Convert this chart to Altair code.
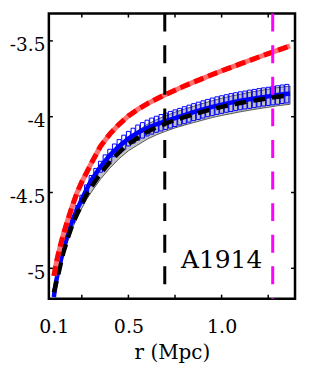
import altair as alt
import pandas as pd

# ---------------- data ----------------
r_grid = [0.1, 0.11, 0.12, 0.135, 0.15, 0.175, 0.2, 0.225, 0.25, 0.275, 0.3, 0.35, 0.4, 0.45,
          0.5, 0.55, 0.6, 0.65, 0.7, 0.75, 0.8, 0.85, 0.9, 0.95, 1.0, 1.05, 1.1, 1.15, 1.2,
          1.25, 1.3, 1.367]
red_curve = [-5.05, -4.985, -4.925, -4.85, -4.78, -4.68, -4.585, -4.5, -4.43, -4.37, -4.31,
             -4.195, -4.115, -4.05, -3.995, -3.952, -3.915, -3.883, -3.853, -3.825, -3.798,
             -3.772, -3.747, -3.722, -3.698, -3.675, -3.652, -3.629, -3.606, -3.584, -3.562,
             -3.533]
blue_curve = [-5.19, -5.10, -5.04, -4.96, -4.88, -4.77, -4.68, -4.61, -4.545, -4.48, -4.42,
              -4.33, -4.255, -4.195, -4.145, -4.105, -4.075, -4.05, -4.03, -4.01, -3.99, -3.97,
              -3.952, -3.935, -3.92, -3.907, -3.895, -3.885, -3.875, -3.866, -3.857, -3.847]
black_curve = [-5.16, -5.11, -5.06, -4.98, -4.90, -4.80, -4.71, -4.64, -4.575, -4.515, -4.465,
               -4.375, -4.30, -4.235, -4.18, -4.14, -4.10, -4.07, -4.045, -4.022, -4.003,
               -3.985, -3.967, -3.95, -3.935, -3.922, -3.91, -3.898, -3.888, -3.878, -3.868,
               -3.858]
band_lo = [-5.17, -5.125, -5.075, -4.998, -4.92, -4.822, -4.735, -4.667, -4.605, -4.547, -4.5,
           -4.412, -4.34, -4.277, -4.225, -4.187, -4.149, -4.12, -4.096, -4.074, -4.056,
           -4.039, -4.022, -4.006, -3.992, -3.98, -3.968, -3.957, -3.947, -3.938, -3.928,
           -3.918]
band_hi = [-5.15, -5.095, -5.045, -4.962, -4.88, -4.778, -4.685, -4.613, -4.545, -4.483, -4.43,
           -4.338, -4.26, -4.193, -4.135, -4.093, -4.051, -4.02, -3.994, -3.97, -3.95, -3.931,
           -3.912, -3.894, -3.878, -3.864, -3.852, -3.839, -3.829, -3.818, -3.808, -3.798]

box_r = [0.125, 0.15, 0.175, 0.2, 0.225, 0.25, 0.275, 0.3, 0.325, 0.35, 0.375, 0.4, 0.425,
         0.45, 0.475, 0.5, 0.525, 0.55, 0.575, 0.6, 0.625, 0.65, 0.675, 0.7, 0.725, 0.75,
         0.775, 0.8, 0.825, 0.85, 0.875, 0.9, 0.925, 0.95, 0.975, 1.0, 1.025, 1.05, 1.075,
         1.1, 1.125, 1.15, 1.175, 1.2, 1.225, 1.25, 1.275, 1.3, 1.325, 1.35]
box_val = [-5.02, -4.88, -4.77, -4.68, -4.61, -4.545, -4.48, -4.42, -4.375, -4.33, -4.29,
           -4.255, -4.222, -4.195, -4.168, -4.145, -4.125, -4.105, -4.09, -4.075, -4.062,
           -4.05, -4.04, -4.03, -4.02, -4.01, -4.0, -3.99, -3.98, -3.97, -3.961, -3.952,
           -3.943, -3.935, -3.927, -3.92, -3.913, -3.907, -3.901, -3.895, -3.89, -3.885,
           -3.88, -3.875, -3.87, -3.866, -3.861, -3.857, -3.852, -3.848]
box_err = [0.012, 0.015, 0.018, 0.021, 0.024, 0.027, 0.03, 0.032, 0.034, 0.036, 0.038, 0.04,
           0.042, 0.044, 0.046, 0.048, 0.049, 0.05, 0.051, 0.052, 0.053, 0.053, 0.054, 0.054,
           0.055, 0.055, 0.055, 0.056, 0.056, 0.056, 0.057, 0.057, 0.057, 0.058, 0.058, 0.058,
           0.058, 0.059, 0.059, 0.059, 0.059, 0.06, 0.06, 0.06, 0.06, 0.06, 0.061, 0.061,
           0.061, 0.061]

vline_r = [0.695, 1.274]
vline_color = ["black", "#ff00ff"]

x_tick_values = [0.25, 0.5, 0.75, 1.0, 1.25]
x_label_values = [0.1, 0.5, 1.0]
y_tick_values = [-3.5, -4.0, -4.5, -5.0]

label_text = ["A1914"]
label_r = [1.0]
label_y = [-5.0]

# ---------------- frames ----------------
curves = pd.DataFrame({"r": r_grid, "red": red_curve, "blue": blue_curve,
                       "black": black_curve, "lo": band_lo, "hi": band_hi})
boxes = pd.DataFrame({"r": box_r, "v": box_val, "e": box_err})
boxes["lo"] = boxes["v"] - boxes["e"]
boxes["hi"] = boxes["v"] + boxes["e"]
vlines = pd.DataFrame({"r": vline_r, "c": vline_color})
xt = pd.DataFrame({"r": x_tick_values})
yt = pd.DataFrame({"v": y_tick_values})
lab = pd.DataFrame({"r": label_r, "v": label_y, "t": label_text})

W, H = 247, 286
FONT = "DejaVu Serif"
xs = alt.Scale(domain=[0.1, 1.367], nice=False, zero=False)
ys = alt.Scale(domain=[-5.2, -3.32], nice=False, zero=False)

xaxis = alt.Axis(values=x_label_values, format=".1f", ticks=False, domain=False, grid=False,
                 labelFlush=False, labelFont=FONT, labelFontSize=19,
                 labelColor="black", labelPadding=19, title="r (Mpc)", titleFont=FONT,
                 titleFontSize=20, titleFontWeight="normal", titleColor="black",
                 titlePadding=6)
yaxis = alt.Axis(values=y_tick_values, labelExpr="'' + datum.value", ticks=False,
                 domain=False, grid=False, labelFont=FONT, labelFontSize=18.5,
                 labelColor="black", labelPadding=4, labelOffset=4, title=None)


def X(f):
    return alt.X(f, type="quantitative", scale=xs, axis=xaxis)


def Y(f):
    return alt.Y(f, type="quantitative", scale=ys, axis=yaxis)


band = alt.Chart(curves).mark_area(color="#c0c0c0", stroke="black", strokeWidth=0.6,
                                   clip=True).encode(x=X("r"), y=Y("lo"), y2="hi")
box_layer = alt.Chart(boxes).mark_bar(width=4, fillOpacity=0, stroke="#0000ff",
                                      strokeWidth=1, clip=True).encode(
    x=X("r"), y=Y("lo"), y2="hi")
blue = alt.Chart(curves).mark_line(color="#0000ff", strokeWidth=4.5, clip=True).encode(
    x=X("r"), y=Y("blue"))
black = alt.Chart(curves).mark_line(color="black", strokeWidth=4.5, strokeDash=[12, 7],
                                    clip=True).encode(x=X("r"), y=Y("black"))
red_base = alt.Chart(curves).mark_line(color="#ff7070", strokeWidth=5, clip=True).encode(
    x=X("r"), y=Y("red"))
red_dash = alt.Chart(curves).mark_line(color="#ff0000", strokeWidth=5, strokeDash=[10, 5],
                                       clip=True).encode(x=X("r"), y=Y("red"))
vl = alt.Chart(vlines).mark_rule(strokeWidth=3, strokeDash=[18, 13.7]).encode(
    x=X("r"), y=alt.value(0), y2=alt.value(H), color=alt.Color("c:N", scale=None))

xt_top = alt.Chart(xt).mark_rule(color="black", strokeWidth=1.5).encode(
    x=X("r"), y=alt.value(0), y2=alt.value(4))
xt_bot = alt.Chart(xt).mark_rule(color="black", strokeWidth=1.5).encode(
    x=X("r"), y=alt.value(H - 4), y2=alt.value(H))
yt_left = alt.Chart(yt).mark_rule(color="black", strokeWidth=1.5).encode(
    y=Y("v"), x=alt.value(0), x2=alt.value(4))
yt_right = alt.Chart(yt).mark_rule(color="black", strokeWidth=1.5).encode(
    y=Y("v"), x=alt.value(W - 4), x2=alt.value(W))

txt = alt.Chart(lab).mark_text(font=FONT, fontSize=25, align="center",
                               baseline="alphabetic", color="black").encode(
    x=X("r"), y=Y("v"), text="t:N")

chart = alt.layer(band, box_layer, blue, black, red_base, red_dash, vl,
                  xt_top, xt_bot, yt_left, yt_right, txt).properties(
    width=W, height=H, autosize="none",
    padding={"left": 41, "top": 5, "right": 6, "bottom": 75},
    background="white",
).configure_view(stroke="black", strokeWidth=2.5)

chart.save("out.html", embed_options={"renderer": "svg", "actions": False})
